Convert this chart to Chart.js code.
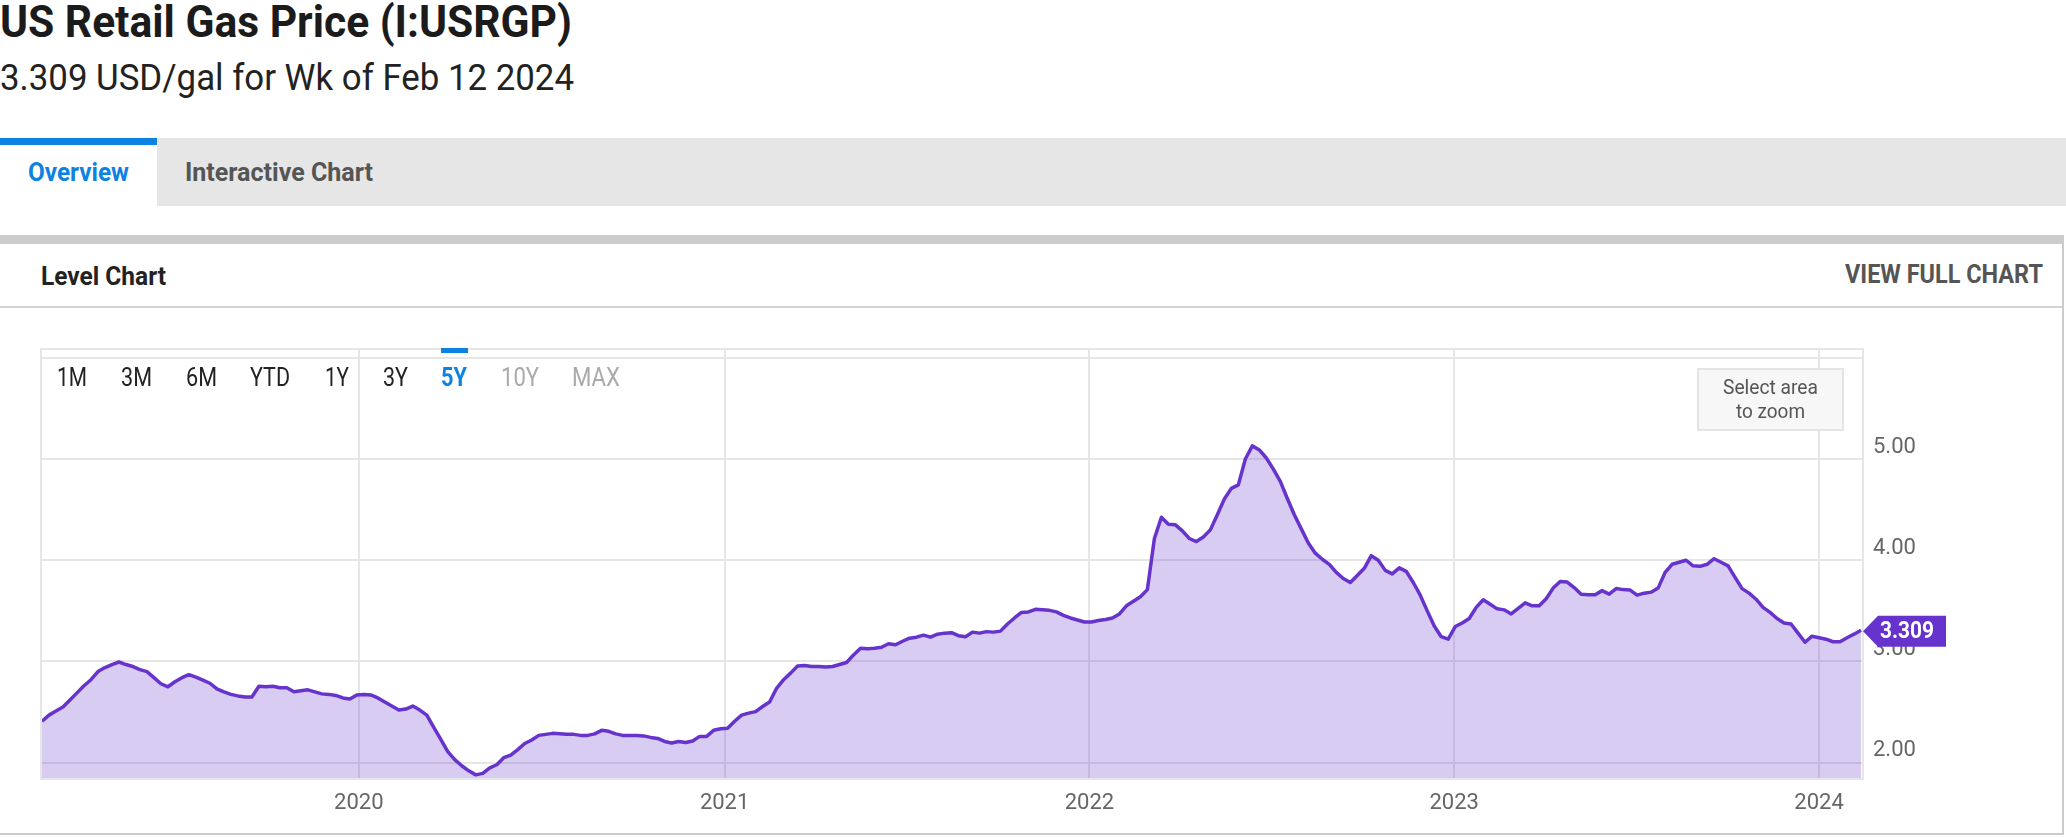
<!DOCTYPE html>
<html><head><meta charset="utf-8">
<script src="https://cdn.jsdelivr.net/npm/chart.js@4.4.1/dist/chart.umd.min.js"></script>
<style>
html,body{margin:0;padding:0;background:#fff;width:2066px;height:838px;overflow:hidden;font-family:Roboto,sans-serif;position:relative;}
.abs{position:absolute;}
.t{position:absolute;white-space:nowrap;transform-origin:0 50%;}
#chart{position:absolute;left:0;top:0;width:2066px;height:838px;z-index:2;}
</style></head><body>
<div class="abs" style="left:0;top:138px;width:2066px;height:68px;background:#e6e6e6"></div>
<div class="abs" style="left:0;top:138px;width:157px;height:68px;background:#fff"></div>
<div class="abs" style="left:0;top:138px;width:157px;height:7px;background:#0c82e2"></div>
<div class="abs" style="left:0;top:235px;width:2064px;height:9px;background:#cccccc"></div>
<div class="abs" style="left:2062px;top:235px;width:2px;height:600px;background:#cccccc"></div>
<div class="abs" style="left:0;top:833px;width:2064px;height:2px;background:#cccccc"></div>
<div class="abs" style="left:0;top:306px;width:2062px;height:2px;background:#d4d4d4"></div>
<canvas id="chart" width="2066" height="838"></canvas>
<div class="abs" style="left:441px;top:348px;width:27px;height:5px;background:#0c82e2;z-index:3"></div>
<div class="abs" style="left:1697px;top:368px;width:143px;height:59px;background:#f6f7f6;border:2px solid #e3e4e3;z-index:3"></div>
<script>
// ---- data (weekly, US retail gasoline, USD/gal) ----
const DAY = 86400000;
const firstWeek = Date.UTC(2019, 1, 18) / DAY;   // week of Feb 18 2019
const prices2019 = [2.41, 2.47, 2.51, 2.55, 2.62, 2.69, 2.76, 2.82, 2.90, 2.94,
  2.97, 2.995, 2.97, 2.95, 2.92, 2.90, 2.84, 2.78, 2.75, 2.80,
  2.84, 2.87, 2.845, 2.815, 2.785, 2.73, 2.70, 2.675, 2.66, 2.65,
  2.65, 2.755, 2.75, 2.755, 2.74, 2.74, 2.70, 2.71, 2.72, 2.70,
  2.68, 2.675, 2.665, 2.64, 2.63, 2.67];
const prices2020 = [2.675, 2.67, 2.64, 2.60, 2.56, 2.52, 2.53, 2.56, 2.52, 2.47,
  2.35, 2.23, 2.11, 2.03, 1.97, 1.92, 1.88, 1.895, 1.95, 1.98,
  2.05, 2.075, 2.13, 2.19, 2.225, 2.27, 2.28, 2.29, 2.285, 2.28,
  2.28, 2.27, 2.27, 2.285, 2.32, 2.31, 2.285, 2.27, 2.27, 2.27,
  2.265, 2.25, 2.24, 2.21, 2.195, 2.21, 2.20, 2.215, 2.26, 2.26,
  2.32, 2.335];
const prices2021 = [2.34, 2.41, 2.47, 2.49, 2.505, 2.555, 2.60, 2.735, 2.82, 2.885,
  2.955, 2.96, 2.95, 2.95, 2.945, 2.95, 2.97, 2.99, 3.065, 3.13,
  3.125, 3.13, 3.14, 3.175, 3.165, 3.20, 3.23, 3.24, 3.26, 3.24,
  3.27, 3.28, 3.285, 3.255, 3.245, 3.29, 3.28, 3.295, 3.29, 3.30,
  3.37, 3.43, 3.485, 3.49, 3.515, 3.51, 3.505, 3.49, 3.455, 3.43,
  3.41, 3.39];
const prices2022 = [3.39, 3.405, 3.415, 3.43, 3.47, 3.55, 3.595, 3.64, 3.71, 4.215,
  4.425, 4.355, 4.35, 4.29, 4.215, 4.185, 4.23, 4.30, 4.45, 4.605,
  4.71, 4.745, 5.00, 5.13, 5.09, 5.01, 4.90, 4.78, 4.61, 4.45,
  4.31, 4.17, 4.07, 4.01, 3.96, 3.88, 3.82, 3.78, 3.85, 3.92,
  4.045, 4.00, 3.90, 3.865, 3.925, 3.89, 3.78, 3.655, 3.50, 3.35,
  3.245, 3.22];
const prices2023 = [3.345, 3.38, 3.425, 3.535, 3.61, 3.565, 3.52, 3.51, 3.47, 3.525,
  3.58, 3.55, 3.55, 3.62, 3.725, 3.79, 3.785, 3.73, 3.665, 3.66,
  3.66, 3.70, 3.665, 3.72, 3.71, 3.705, 3.655, 3.675, 3.685, 3.725,
  3.88, 3.96, 3.98, 4.00, 3.945, 3.94, 3.96, 4.015, 3.98, 3.945,
  3.83, 3.72, 3.675, 3.615, 3.535, 3.485, 3.425, 3.38, 3.37, 3.28,
  3.19, 3.25];
const prices2024 = [3.235, 3.22, 3.195, 3.195, 3.235, 3.27, 3.309];
const yearTicks = [2020, 2021, 2022, 2023, 2024];
const levelTicks = [2, 3, 4, 5, 6];
const lastLabel = '3.309';

const weekly = [].concat(prices2019, prices2020, prices2021, prices2022, prices2023, prices2024);
const points = weekly.map((v, i) => ({x: firstWeek + 7 * i, y: v}));

// ---- html texts (condensed look via horizontal scaling) ----
const texts = [
  {s:'US Retail Gas Price (I:USRGP)', x:0, cy:22, size:45, w:700, c:'#1b1b1b', tw:572, a:'l'},
  {s:'3.309 USD/gal for Wk of Feb 12 2024', x:0, cy:78, size:37, w:400, c:'#222', tw:574, a:'l'},
  {s:'Overview', x:78, cy:172, size:26, w:700, c:'#0c82e2', tw:101, a:'c'},
  {s:'Interactive Chart', x:185, cy:172, size:26, w:700, c:'#555', tw:188, a:'l'},
  {s:'Level Chart', x:41, cy:276, size:26, w:700, c:'#222', tw:125, a:'l'},
  {s:'VIEW FULL CHART', x:2043, cy:275, size:25, w:700, c:'#555', tw:198, a:'r'},
  {s:'1M', x:72, cy:378, size:25, w:400, c:'#222', tw:30, a:'c', z:3},
  {s:'3M', x:136, cy:378, size:25, w:400, c:'#222', tw:31, a:'c', z:3},
  {s:'6M', x:201, cy:378, size:25, w:400, c:'#222', tw:31, a:'c', z:3},
  {s:'YTD', x:270, cy:378, size:25, w:400, c:'#222', tw:40, a:'c', z:3},
  {s:'1Y', x:337, cy:378, size:25, w:400, c:'#222', tw:24, a:'c', z:3},
  {s:'3Y', x:395, cy:378, size:25, w:400, c:'#222', tw:25, a:'c', z:3},
  {s:'5Y', x:454, cy:378, size:25, w:700, c:'#0c82e2', tw:26, a:'c', z:3},
  {s:'10Y', x:520, cy:378, size:25, w:400, c:'#aaa', tw:38, a:'c', z:3},
  {s:'MAX', x:596, cy:378, size:25, w:400, c:'#aaa', tw:48, a:'c', z:3},
  {s:'Select area', x:1770, cy:387, size:21, w:400, c:'#555', tw:95, a:'c', z:4},
  {s:'to zoom', x:1770, cy:411, size:21, w:400, c:'#555', tw:69, a:'c', z:4}
];
texts.forEach(t => {
  const el = document.createElement('div');
  el.className = 't';
  el.textContent = t.s;
  el.style.font = t.w + ' ' + t.size + 'px Roboto, sans-serif';
  el.style.color = t.c;
  el.style.lineHeight = '40px';
  el.style.height = '40px';
  el.style.top = (t.cy - 20) + 'px';
  el.style.zIndex = t.z || 1;
  el.style.left = '0px';
  document.body.appendChild(el);
  const nat = el.getBoundingClientRect().width;
  const k = t.tw / nat;
  const left = t.a === 'l' ? t.x : (t.a === 'c' ? t.x - t.tw / 2 : t.x - t.tw);
  el.style.left = left + 'px';
  el.style.transform = 'scaleX(' + k + ')';
});

// ---- chart ----
const framePlugin = {
  id: 'frame',
  beforeDraw(chart) {
    const {ctx, chartArea: a} = chart;
    ctx.save();
    ctx.strokeStyle = '#e6e6e6';
    ctx.lineWidth = 2;
    ctx.strokeRect(a.left - 1, a.top - 1, a.right - a.left + 2, a.bottom - a.top + 2);
    ctx.restore();
  }
};
const badgePlugin = {
  id: 'badge',
  afterDraw(chart) {
    const {ctx, chartArea: a, scales} = chart;
    const y = scales.y.getPixelForValue(weekly[weekly.length - 1]) + 1;
    const tip = a.right + 1, x1 = tip + 15, x2 = x1 + 68, h = 15.5;
    ctx.save();
    ctx.fillStyle = '#6633cc';
    ctx.beginPath();
    ctx.moveTo(tip, y);
    ctx.lineTo(x1, y - h);
    ctx.lineTo(x2, y - h);
    ctx.lineTo(x2, y + h);
    ctx.lineTo(x1, y + h);
    ctx.closePath();
    ctx.fill();
    ctx.font = 'bold 23px Roboto, sans-serif';
    const nat = ctx.measureText(lastLabel).width;
    const k = 54 / nat;
    ctx.translate(x1 + 2, y);
    ctx.scale(k, 1);
    ctx.fillStyle = '#ffffff';
    ctx.textAlign = 'left';
    ctx.textBaseline = 'middle';
    ctx.fillText(lastLabel, 0, 1);
    ctx.restore();
  }
};

const tickFont = {family: "'Liberation Sans Narrow', Roboto, sans-serif", size: 22};
new Chart(document.getElementById('chart'), {
  type: 'line',
  data: {
    datasets: [{
      data: points,
      borderColor: '#6633cc',
      borderWidth: 3.5,
      backgroundColor: 'rgba(102,51,204,0.25)',
      fill: 'start',
      pointRadius: 0,
      tension: 0,
      borderJoinStyle: 'round'
    }]
  },
  options: {
    responsive: false,
    devicePixelRatio: 1,
    animation: false,
    layout: {padding: {left: 42, top: 350, right: 0, bottom: 0}},
    plugins: {legend: {display: false}, tooltip: {enabled: false}},
    scales: {
      x: {
        type: 'linear',
        min: firstWeek,
        max: firstWeek + 7 * (weekly.length - 1) + 1,
        afterBuildTicks: s => { s.ticks = yearTicks.map(yr => ({value: Date.UTC(yr, 0, 1) / DAY})); },
        afterFit: s => { s.height = 60; },
        ticks: {
          callback: v => String(new Date(v * DAY).getUTCFullYear()),
          color: '#666', font: tickFont, padding: 12, maxRotation: 0, autoSkip: false
        },
        grid: {color: '#e6e6e6', lineWidth: 2, drawTicks: false},
        border: {display: false}
      },
      y: {
        position: 'right',
        min: 1.849,
        max: 6.077,
        afterBuildTicks: s => { s.ticks = levelTicks.map(v => ({value: v})); },
        afterFit: s => { s.width = 204; },
        ticks: {
          callback: v => (v >= 6 ? '' : Number(v).toFixed(2)),
          color: '#666', font: tickFont, padding: 11, labelOffset: -12, crossAlign: 'near'
        },
        grid: {color: '#e6e6e6', lineWidth: 2, drawTicks: false},
        border: {display: false}
      }
    }
  },
  plugins: [framePlugin, badgePlugin]
});
</script>
</body></html>
